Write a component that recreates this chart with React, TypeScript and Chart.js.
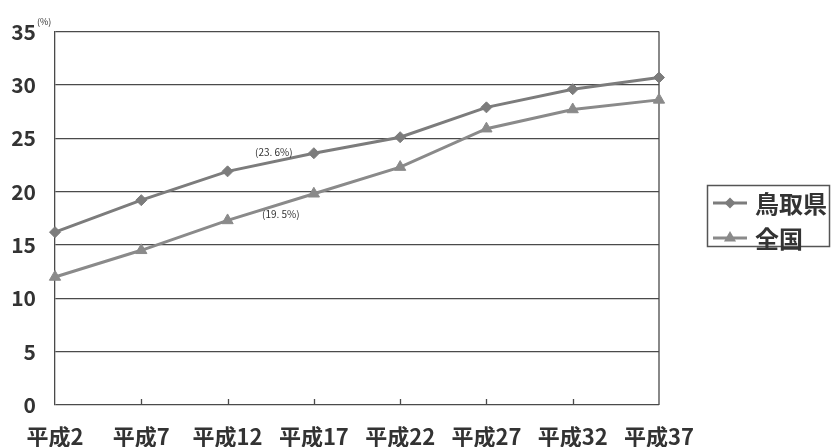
import React, { useEffect, useRef } from "react";
import { Chart, registerables } from "chart.js";

Chart.register(...registerables);

const categories = ["平成2", "平成7", "平成12", "平成17", "平成22", "平成27", "平成32", "平成37"];
const tottoriValues = [16.2, 19.2, 21.9, 23.6, 25.1, 27.9, 29.6, 30.7];
const nationalValues = [12.0, 14.5, 17.3, 19.8, 22.3, 25.9, 27.7, 28.6];
const seriesNames = ["鳥取県", "全国"];
const yTicks = [0, 5, 10, 15, 20, 25, 30, 35];
const unitLabel = "(%)";
const annotationTexts = ["(23. 6%)", "(19. 5%)"];
const annotationIndex = 3;

const FONT = "'Noto Sans CJK JP', 'Noto Sans', sans-serif";
const TEXT = "#333333";
const GRID = "#4a4a4a";
const C1 = "#7c7c7c";
const C2 = "#8a8a8a";

function diamond(ctx: CanvasRenderingContext2D, x: number, y: number, r: number) {
  ctx.beginPath();
  ctx.moveTo(x - r, y);
  ctx.lineTo(x, y - r);
  ctx.lineTo(x + r, y);
  ctx.lineTo(x, y + r);
  ctx.closePath();
  ctx.fill();
}
function triangle(ctx: CanvasRenderingContext2D, x: number, y: number, r: number) {
  ctx.beginPath();
  ctx.moveTo(x, y - r);
  ctx.lineTo(x + r * 0.866, y + r * 0.5);
  ctx.lineTo(x - r * 0.866, y + r * 0.5);
  ctx.closePath();
  ctx.fill();
}

const decor = {
  id: "decor",
  beforeDatasetsDraw(chart: any) {
    const { ctx, chartArea, scales } = chart;
    ctx.save();
    ctx.strokeStyle = GRID;
    ctx.lineWidth = 1.3;
    ctx.beginPath();
    ctx.moveTo(chartArea.right, chartArea.top);
    ctx.lineTo(chartArea.right, chartArea.bottom);
    for (let i = 1; i < categories.length - 1; i++) {
      const x = Math.round(scales.x.getPixelForValue(i)) + 0.5;
      ctx.moveTo(x, chartArea.bottom);
      ctx.lineTo(x, chartArea.bottom - 6);
    }
    ctx.stroke();
    ctx.restore();
  },
  afterDraw(chart: any) {
    const { ctx, chartArea, scales } = chart;
    ctx.save();
    ctx.fillStyle = TEXT;
    ctx.font = `9px ${FONT}`;
    ctx.textBaseline = "middle";
    ctx.textAlign = "left";
    ctx.fillText(unitLabel, chartArea.left - 18, chartArea.top - 10);
    ctx.font = `10px ${FONT}`;
    ctx.textAlign = "center";
    const ax = scales.x.getPixelForValue(annotationIndex);
    ctx.fillText(annotationTexts[0], ax - 40, scales.y.getPixelForValue(tottoriValues[annotationIndex]) - 1);
    ctx.fillText(annotationTexts[1], ax - 33, scales.y.getPixelForValue(nationalValues[annotationIndex]) + 20);
    const bx = 707, by = 185, bw = 122, bh = 61;
    ctx.strokeStyle = "#555";
    ctx.lineWidth = 1.5;
    ctx.strokeRect(bx + 0.5, by + 0.5, bw, bh);
    const rows = [by + 18, by + 53];
    const colors = [C1, C2];
    ctx.font = `bold 24px ${FONT}`;
    ctx.textAlign = "left";
    for (let i = 0; i < 2; i++) {
      const y = rows[i];
      ctx.strokeStyle = colors[i];
      ctx.fillStyle = colors[i];
      ctx.lineWidth = 3;
      ctx.beginPath();
      ctx.moveTo(bx + 6, y);
      ctx.lineTo(bx + 40, y);
      ctx.stroke();
      if (i === 0) diamond(ctx, bx + 23, y, 5.5);
      else triangle(ctx, bx + 23, y, 7);
      ctx.fillStyle = TEXT;
      ctx.fillText(seriesNames[i], bx + 48, y + 1);
    }
    ctx.restore();
  },
};

export default function App() {
  const ref = useRef<HTMLCanvasElement>(null);
  useEffect(() => {
    if (!ref.current) return;
    const chart = new Chart(ref.current, {
      type: "line",
      data: {
        labels: categories,
        datasets: [
          {
            label: seriesNames[0],
            data: tottoriValues,
            borderColor: C1,
            backgroundColor: C1,
            borderWidth: 3,
            pointStyle: "rectRot",
            pointRadius: 5.5,
            pointBorderWidth: 1,
            pointBackgroundColor: C1,
            pointBorderColor: C1,
            tension: 0,
          },
          {
            label: seriesNames[1],
            data: nationalValues,
            borderColor: C2,
            backgroundColor: C2,
            borderWidth: 3,
            pointStyle: "triangle",
            pointRadius: 6.5,
            pointBorderWidth: 1,
            pointBackgroundColor: C2,
            pointBorderColor: C2,
            tension: 0,
          },
        ],
      },
      options: {
        animation: false,
        responsive: false,
        devicePixelRatio: 1,
        layout: { padding: { top: 28, right: 172, left: 0, bottom: 0 } },
        plugins: { legend: { display: false }, tooltip: { enabled: false } },
        scales: {
          x: {
            type: "category",
            offset: false,
            grid: { display: false },
            border: { display: false },
            ticks: {
              color: TEXT,
              font: { family: FONT, size: 22, weight: "bold" },
              padding: 10,
              maxRotation: 0,
              autoSkip: false,
            },
            afterFit(s: any) {
              s.height = 42;
            },
          },
          y: {
            min: 0,
            max: 35,
            afterBuildTicks(s: any) {
              s.ticks = yTicks.map((v) => ({ value: v }));
            },
            grid: { color: GRID, lineWidth: 1.3, drawTicks: false },
            border: { display: true, color: GRID, width: 1.3 },
            ticks: {
              color: TEXT,
              font: { family: FONT, size: 21, weight: "bold" },
              padding: 19,
            },
            afterFit(s: any) {
              s.width = 55;
            },
          },
        },
      },
      plugins: [decor],
    });
    return () => chart.destroy();
  }, []);
  return (
    <div style={{ position: "absolute", left: 0, top: 0, width: 831, height: 447, background: "#fff" }}>
      <canvas ref={ref} width={831} height={447} />
    </div>
  );
}
